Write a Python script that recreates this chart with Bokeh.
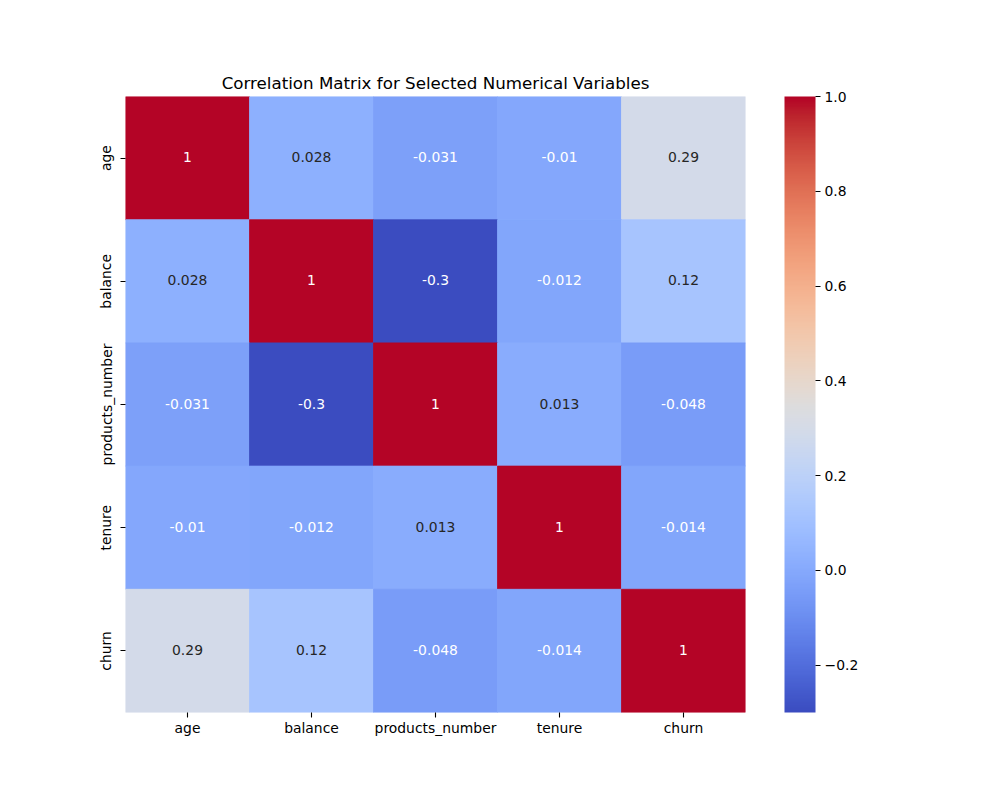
import numpy as np
from bokeh.plotting import figure
from bokeh.models import (ColumnDataSource, LinearColorMapper, ColorBar, FixedTicker,
                          FactorRange, CustomJSTickFormatter)
from bokeh.transform import transform
from bokeh.embed import file_html
from bokeh.resources import INLINE

# ---- data ----
variables = ["age", "balance", "products_number", "tenure", "churn"]
corr_age = [1.0, 0.028, -0.031, -0.01, 0.29]
corr_balance = [0.028, 1.0, -0.3, -0.012, 0.12]
corr_products_number = [-0.031, -0.3, 1.0, 0.013, -0.048]
corr_tenure = [-0.01, -0.012, 0.013, 1.0, -0.014]
corr_churn = [0.29, 0.12, -0.048, -0.014, 1.0]
cbar_ticks = [-0.2, 0.0, 0.2, 0.4, 0.6, 0.8, 1.0]
vmin, vmax = -0.3, 1.0

rows = [corr_age, corr_balance, corr_products_number, corr_tenure, corr_churn]

# ---- matplotlib coolwarm colormap table ----
_pos = np.linspace(0, 1, 33)
_r = [0.2298057, 0.26623388, 0.30386891, 0.342804, 0.38301334, 0.42436691, 0.46666708,
      0.50971858, 0.55320655, 0.59692062, 0.64052664, 0.68358437, 0.72573031, 0.7666286,
      0.80588373, 0.84313083, 0.86742764, 0.89818855, 0.92217088, 0.93976838, 0.95116467,
      0.95668539, 0.95665962, 0.95141634, 0.94116026, 0.92620722, 0.90658731, 0.88240758,
      0.85360564, 0.82015616, 0.78198624, 0.73894547, 0.70567316]
_g = [0.298717966, 0.353094838, 0.406535296, 0.458757618, 0.50941904, 0.558148092,
      0.604562568, 0.648280772, 0.688929332, 0.726149107, 0.759599947, 0.788964712,
      0.813952739, 0.834302879, 0.849786142, 0.860207984, 0.86247636, 0.84780607,
      0.82696519, 0.80100637, 0.77024189, 0.73508669, 0.69596002, 0.65315011, 0.60671064,
      0.55658306, 0.50254839, 0.44423346, 0.38103149, 0.31208234, 0.23573707, 0.14505574,
      0.01555616]
_b = [0.753683153, 0.801466763, 0.84495867, 0.883725899, 0.917387822, 0.945619588,
      0.968154911, 0.98478814, 0.995375608, 0.999836203, 0.998151185, 0.990363227,
      0.976574709, 0.956945269, 0.931688648, 0.901068838, 0.86260246, 0.81037455,
      0.75809807, 0.70670315, 0.65642658, 0.60717998, 0.55925227, 0.51283924, 0.46762883,
      0.42357095, 0.38051007, 0.33820209, 0.29722164, 0.25728082, 0.21780599, 0.17774227,
      0.15023281]
_t = np.linspace(0, 1, 256)
lut = np.stack([np.interp(_t, _pos, _r), np.interp(_t, _pos, _g), np.interp(_t, _pos, _b)], axis=1)
palette = ["#%02x%02x%02x" % tuple(int(round(c * 255)) for c in rgb) for rgb in lut]


def lum(rgb):
    lin = [c / 12.92 if c <= 0.03928 else ((c + 0.055) / 1.055) ** 2.4 for c in rgb]
    return 0.2126 * lin[0] + 0.7152 * lin[1] + 0.0722 * lin[2]


xs, ys, vals, labels, tcolors = [], [], [], [], []
for yi, row in zip(variables, rows):
    for xi, v in zip(variables, row):
        xs.append(xi)
        ys.append(yi)
        vals.append(v)
        labels.append(f"{v:.2g}")
        idx = int(min(255, max(0, np.floor((v - vmin) / (vmax - vmin) * 256))))
        tcolors.append("#262626" if lum(lut[idx]) > 0.408 else "#ffffff")

src = ColumnDataSource(dict(x=xs, y=ys, v=vals, label=labels, tc=tcolors))

mapper = LinearColorMapper(palette=palette, low=vmin, high=vmax)

FONT = "DejaVu Sans"

p = figure(x_range=FactorRange(*variables), y_range=FactorRange(*variables[::-1]),
           frame_width=620, frame_height=616, min_border_left=125, min_border_top=96,
           min_border_right=240, min_border_bottom=60,
           output_backend="svg", toolbar_location=None,
           title="Correlation Matrix for Selected Numerical Variables")

p.rect(x="x", y="y", width=1, height=1, source=src,
       fill_color=transform("v", mapper), line_color=transform("v", mapper),
       line_width=0.8)
p.text(x="x", y="y", text="label", text_color="tc", source=src,
       text_align="center", text_baseline="middle", y_offset=-1,
       text_font_size="13.9px", text_font={"value": FONT})

p.title.align = "center"
p.title.text_font = FONT
p.title.text_font_style = "normal"
p.title.text_font_size = "16.7px"
p.title.text_color = "#000000"
p.title.standoff = 8

p.grid.visible = False
p.outline_line_color = None
for ax in (p.xaxis, p.yaxis):
    ax.axis_line_color = None
    ax.major_tick_in = 0
    ax.major_tick_out = 5
    ax.major_tick_line_color = "#000000"
    ax.major_tick_line_width = 1.1
    ax.major_label_text_font = FONT
    ax.major_label_text_font_size = "13.9px"
    ax.major_label_text_color = "#000000"
    ax.major_label_standoff = 5
p.xaxis.major_label_standoff = 2
p.yaxis.major_label_standoff = 6
p.yaxis.major_label_orientation = "vertical"

tick_fmt = CustomJSTickFormatter(code="return tick.toFixed(1).replace('-', '\u2212');")
cb = ColorBar(color_mapper=mapper, ticker=FixedTicker(ticks=cbar_ticks),
              formatter=tick_fmt, width=31, height=616,
              location=(39, 0), padding=0, margin=0,
              border_line_color=None, bar_line_color=None,
              major_tick_in=0, major_tick_out=5, major_tick_line_color="#000000",
              major_tick_line_width=1.1,
              major_label_text_font=FONT, major_label_text_font_size="13.9px",
              major_label_text_color="#000000", label_standoff=4,
              background_fill_color=None)
p.add_layout(cb, "right")

open("out.html", "w").write(file_html(p, INLINE))
